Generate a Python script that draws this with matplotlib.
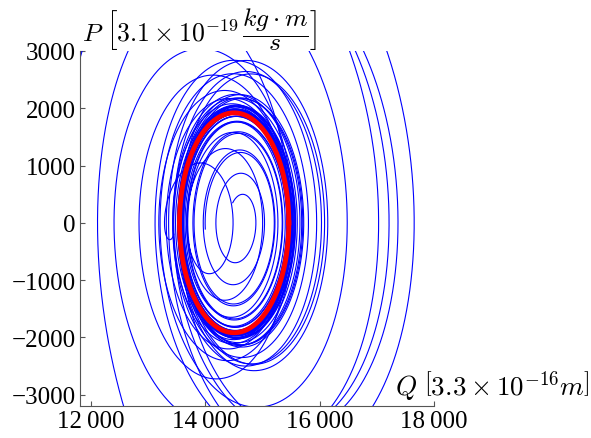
import numpy as np
import matplotlib
matplotlib.use("Agg")
import matplotlib.pyplot as plt

# ---- data ----
# starting states of the blue trajectories: position Q, momentum P,
# and the (drifting) centre of oscillation at the start
start_Q = [14000, 14480, 13450, 11700, 16580, 16720, 17140, 12600, 13700, 12000]
start_P = [-110, 350, -200, 2400, 3100, 3100, 3100, -3300, -3400, 3300]
start_C = [14560, 14620, 13300, 15000, 15300, 15500, 15400, 14800, 13900, 13600]
# limit cycle (red) : centre and semi-axes
cycle_centre = (14505, 0)
cycle_axes = (956, 1920)
# oscillator model parameters (normalised units)
model_centre = 14535
model_scale = (960, 1935)
gain = 0.2
sat = 0.45
relax = 6.0
t_end = 90.0

xticks = [12000, 14000, 16000, 18000]
xticklabels = ["12\u2009000", "14\u2009000", "16\u2009000", "18\u2009000"]
yticks = [-3000, -2000, -1000, 0, 1000, 2000, 3000]
yticklabels = ["\u22123000", "\u22122000", "\u22121000", "0", "1000", "2000", "3000"]


def rhs(x, y, z):
    d = x - z
    r2 = d * d + y * y
    g = gain * (1.0 - r2) / (1.0 + sat * r2)
    return y, -d + g * y, -z / relax


def integrate(x0, y0, z0, dt=0.005, T=t_end):
    n = int(T / dt)
    xs = np.empty((n + 1, len(x0)))
    ys = np.empty((n + 1, len(x0)))
    x = np.array(x0, float)
    y = np.array(y0, float)
    z = np.array(z0, float)
    xs[0], ys[0] = x, y
    for i in range(n):
        k1 = rhs(x, y, z)
        k2 = rhs(x + 0.5 * dt * k1[0], y + 0.5 * dt * k1[1], z + 0.5 * dt * k1[2])
        k3 = rhs(x + 0.5 * dt * k2[0], y + 0.5 * dt * k2[1], z + 0.5 * dt * k2[2])
        k4 = rhs(x + dt * k3[0], y + dt * k3[1], z + dt * k3[2])
        x = x + dt / 6 * (k1[0] + 2 * k2[0] + 2 * k3[0] + k4[0])
        y = y + dt / 6 * (k1[1] + 2 * k2[1] + 2 * k3[1] + k4[1])
        z = z + dt / 6 * (k1[2] + 2 * k2[2] + 2 * k3[2] + k4[2])
        xs[i + 1], ys[i + 1] = x, y
    return xs, ys


plt.rcParams["mathtext.fontset"] = "cm"
fig = plt.figure(figsize=(5.91, 4.39), dpi=100)
W, H = 591, 439
ax = fig.add_axes([80 / W, (H - 407) / H, (434 - 80) / W, (407 - 52) / H])

x0 = (np.array(start_Q) - model_centre) / model_scale[0]
y0 = np.array(start_P) / model_scale[1]
z0 = (np.array(start_C) - model_centre) / model_scale[0]
xs, ys = integrate(x0, y0, z0)
Qs = xs * model_scale[0] + model_centre
Ps = ys * model_scale[1]
for j in range(len(start_Q)):
    ax.plot(Qs[:, j], Ps[:, j], color=(0, 0, 1), lw=0.8)

th = np.linspace(0, 2 * np.pi, 400)
ax.plot(cycle_centre[0] + cycle_axes[0] * np.cos(th),
        cycle_centre[1] + cycle_axes[1] * np.sin(th), color=(1, 0, 0), lw=3.5)

ax.set_xlim(11809, 18000)
ax.set_ylim(-3200, 3000)
for s in ["top", "right"]:
    ax.spines[s].set_visible(False)
for s in ["left", "bottom"]:
    ax.spines[s].set_color("#555555")
    ax.spines[s].set_linewidth(0.8)
ax.set_xticks(xticks)
ax.set_xticklabels(xticklabels)
ax.set_yticks(yticks)
ax.set_yticklabels(yticklabels)
ax.tick_params(direction="in", length=3.5, width=0.8, color="#555555",
               labelsize=18, pad=3)
for lab in ax.get_xticklabels() + ax.get_yticklabels():
    lab.set_family("Liberation Serif")

fig.text(82 / W, 1 - 30 / H,
         r"$P\ \left[3.1\times10^{-19}\,\dfrac{kg\cdot m}{s}\right]$",
         fontsize=18.5, ha="left", va="center")
fig.text(589 / W, 1 - 386 / H,
         r"$Q\ \left[3.3\times10^{-16}m\right]$",
         fontsize=19.5, ha="right", va="center")

fig.savefig("out.png", dpi=100)
